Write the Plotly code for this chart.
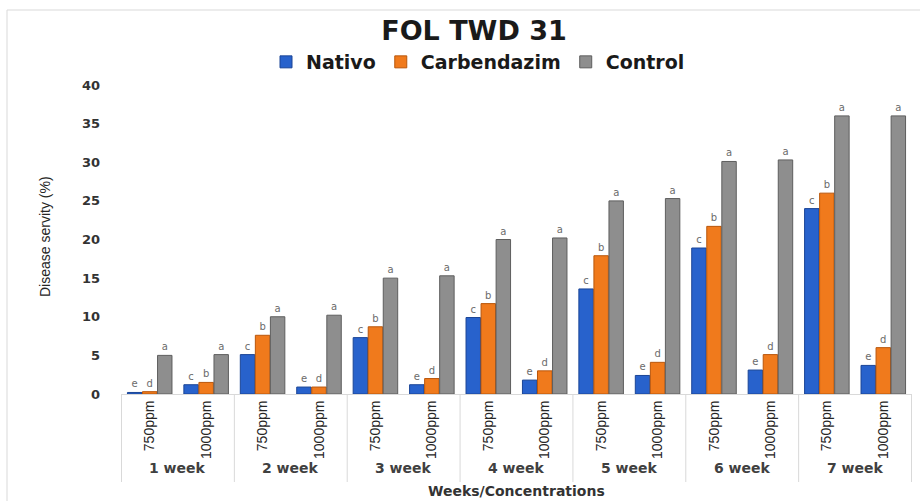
import plotly.graph_objects as go

# Disease severity (%) for FOL TWD 31 by week and concentration
weeks = ["1 week", "2 week", "3 week", "4 week", "5 week", "6 week", "7 week"]
concentrations = ["750ppm", "1000ppm"]

nativo = [0.2, 1.2, 5.1, 0.9, 7.3, 1.2, 9.9, 1.8, 13.6, 2.4, 18.9, 3.1, 24.0, 3.7]
carbendazim = [0.3, 1.5, 7.6, 0.9, 8.7, 2.0, 11.7, 3.0, 17.9, 4.1, 21.7, 5.1, 26.0, 6.0]
control = [5.0, 5.1, 10.0, 10.2, 15.0, 15.3, 20.0, 20.2, 25.0, 25.3, 30.1, 30.3, 36.0, 36.0]

nativo_letters = ["e", "c", "c", "e", "c", "e", "c", "e", "c", "e", "c", "e", "c", "e"]
carbendazim_letters = ["d", "b", "b", "d", "b", "d", "b", "d", "b", "d", "b", "d", "b", "d"]
control_letters = ["a"] * 14

y_ticks = [0, 5, 10, 15, 20, 25, 30, 35, 40]

# Unique category keys, one per (week, concentration) pair
keys = [f"{w} {c}" for w in weeks for c in concentrations]
tick_text = [c for w in weeks for c in concentrations]

series = [
    ("Nativo", nativo, nativo_letters, "#2862CC", "#1B4596"),
    ("Carbendazim", carbendazim, carbendazim_letters, "#F07A1C", "#B9560B"),
    ("Control", control, control_letters, "#8E8E8E", "#5E5E5E"),
]

fig = go.Figure()
for name, vals, letters, color, edge in series:
    fig.add_trace(go.Bar(
        name=name,
        x=keys,
        y=vals,
        text=letters,
        textposition="outside",
        textfont=dict(family="DejaVu Sans", size=10, color="#6B6B6B"),
        marker=dict(color=color, line=dict(color=edge, width=1)),
        cliponaxis=False,
    ))

# Plot-area geometry in pixels, used to place paper-referenced items
W, H = 920, 501
ML, MR, MT, MB = 121, 8, 85, 107
PW = W - ML - MR
PH = H - MT - MB


def px_x(x):
    return (x - ML) / PW


def px_y(y):
    return (H - MB - y) / PH


annotations = []
shapes = []

# Week group labels and dividers under the axis
for i, w in enumerate(weeks):
    annotations.append(dict(
        x=2 * i + 0.5, xref="x", y=px_y(468), yref="paper",
        text=f"<b>{w}</b>", showarrow=False,
        font=dict(family="DejaVu Sans", size=14, color="#404040"),
        xanchor="center", yanchor="middle",
    ))
for i in range(len(weeks) + 1):
    shapes.append(dict(
        type="line", xref="x", yref="paper",
        x0=2 * i - 0.5, x1=2 * i - 0.5, y0=0, y1=px_y(482),
        line=dict(color="#D9D9D9", width=1),
    ))

# Axis titles
annotations.append(dict(
    x=0.5, xref="paper", y=px_y(491), yref="paper",
    text="<b>Weeks/Concentrations</b>", showarrow=False,
    font=dict(family="DejaVu Sans", size=14, color="#333333"),
    xanchor="center", yanchor="middle",
))
annotations.append(dict(
    x=px_x(45), xref="paper", y=px_y(237), yref="paper",
    text="Disease servity (%)", showarrow=False, textangle=-90,
    font=dict(family="Liberation Sans Narrow, Liberation Sans", size=14, color="#262626"),
    xanchor="center", yanchor="middle",
))

# Chart outline
shapes.append(dict(
    type="rect", xref="paper", yref="paper",
    x0=px_x(7), x1=px_x(940), y0=px_y(520), y1=px_y(10),
    line=dict(color="#D9D9D9", width=1), fillcolor="rgba(0,0,0,0)", layer="below",
))

fig.update_layout(
    width=W, height=H,
    margin=dict(l=ML, r=MR, t=MT, b=MB, autoexpand=False),
    paper_bgcolor="white", plot_bgcolor="white",
    barmode="group", bargap=0.2, bargroupgap=0.04,
    title=dict(
        text="<b>FOL TWD 31</b>", x=px_x(474), xref="paper", xanchor="center",
        y=1 - 31 / H, yanchor="middle",
        font=dict(family="DejaVu Sans", size=27, color="#1A1A1A"),
    ),
    legend=dict(
        orientation="h", xref="paper", x=px_x(478), xanchor="center",
        yref="paper", y=px_y(62), yanchor="middle",
        font=dict(family="DejaVu Sans", size=19, color="#1A1A1A", weight="bold"),
        itemwidth=30, traceorder="normal",
    ),
    xaxis=dict(
        type="category", categoryorder="array", categoryarray=keys,
        tickvals=keys, ticktext=tick_text, tickangle=-90,
        tickfont=dict(family="Liberation Sans Narrow, Liberation Sans", size=14, color="#262626"),
        showline=True, linecolor="#D9D9D9", linewidth=1,
        showgrid=False, ticks="", zeroline=False,
    ),
    yaxis=dict(
        range=[0, 40], tickvals=y_ticks,
        tickfont=dict(family="DejaVu Sans", size=13, color="#333333", weight="bold"),
        showgrid=False, zeroline=False, showline=False,
        ticks="", ticklabelstandoff=20,
    ),
    annotations=annotations,
    shapes=shapes,
    showlegend=True,
)

fig.write_html("out.html")
